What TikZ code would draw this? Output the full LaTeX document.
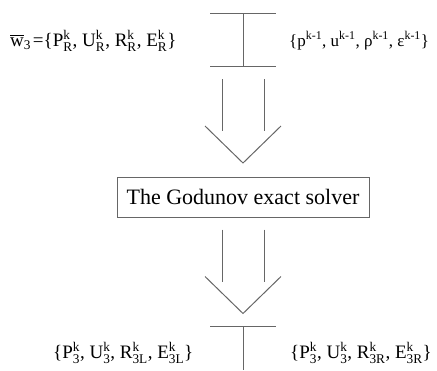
\documentclass[tikz,border=0pt]{standalone}
\usepackage{amsmath}
\usepackage{fontspec}
\setmainfont{Liberation Serif}
\usepackage{tikz}
\usetikzlibrary{positioning, calc}
\newcommand{\qv}[3]{\text{#1}^{\text{#2}}_{\text{#3}}}
\newcommand{\cm}{\text{, }}
\tikzset{
    line/.style={draw=black!60, line width=1pt},
    label/.style={inner sep=0pt, font=\fontsize{19}{23}\selectfont},
    solverbox/.style={line, rectangle, minimum width=252pt, minimum height=40pt, inner sep=0pt, font=\fontsize{22}{26}\selectfont},
    openarrow/.pic={
        \draw [line] (-21,0) -- (-21,52);
        \draw [line] (21,0) -- (21,52);
        \draw [line] (-38,47) -- (0,84) -- (38,47);
    }
}
\begin{document}
\begin{tikzpicture}[x=1pt, y=-1pt]
        \useasboundingbox (0,0) rectangle (437,370);
        % Cell interface marks
        \coordinate (topL) at (210,13);
        \coordinate (topR) at (276,13);
        \coordinate (midL) at (210,66);
        \coordinate (midR) at (276,66);
        \coordinate (botL) at (210,326);
        \coordinate (botR) at (276,326);
        \coordinate (topC) at ($(topL)!0.5!(topR)$);
        \coordinate (midC) at ($(midL)!0.5!(midR)$);
        \coordinate (botC) at ($(botL)!0.5!(botR)$);
        \coordinate (endC) at (243,370);

        % Nodes
        \node (solver) [solverbox] at (243,197) {The Godunov exact solver};
        \node (wbar) [label, anchor=west] at (10,41) {$\overline{\text{w}}_{\text{3}}\!\text{ =\{}\qv{P}{k}{R}\cm\qv{U}{k}{R}\cm\qv{R}{k}{R}\cm\qv{E}{k}{R}\text{\}}$};
        \node (old) [label, anchor=west, font=\fontsize{17}{21}\selectfont] at (289,41) {$\text{\{}\qv{p}{k-1}{}\cm\qv{u}{k-1}{}\cm\qv{ρ}{k-1}{}\cm\qv{ε}{k-1}{}\text{\}}$};
        \node (left) [label, anchor=west] at (53,353) {$\text{\{}\qv{P}{k}{3}\cm\qv{U}{k}{3}\cm\qv{R}{k}{3L}\cm\qv{E}{k}{3L}\text{\}}$};
        \node (right) [label, anchor=west] at (290,353) {$\text{\{}\qv{P}{k}{3}\cm\qv{U}{k}{3}\cm\qv{R}{k}{3R}\cm\qv{E}{k}{3R}\text{\}}$};

        % Interfaces
        \draw [line] (topL) -- (topR);
        \draw [line] (midL) -- (midR);
        \draw [line] (topC) -- (midC);
        \draw [line] (botL) -- (botR);
        \draw [line] (botC) -- (endC);

        % Open arrows
        \pic at ($(midC)+(0,13)$) {openarrow};
        \pic at ($(solver.south)+(0,12)$) {openarrow};
    \end{tikzpicture}
\end{document}
